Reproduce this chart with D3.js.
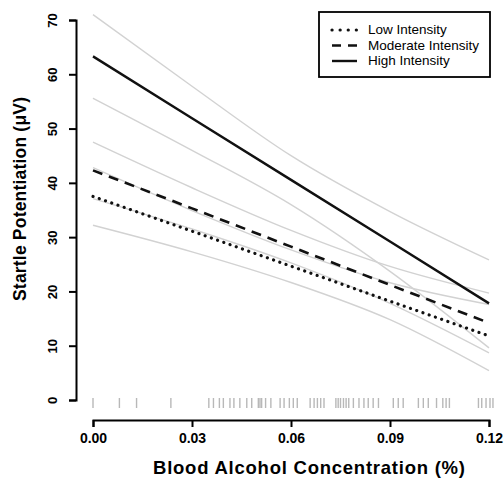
<!DOCTYPE html>
<html><head><meta charset="utf-8">
<script src="https://cdn.jsdelivr.net/npm/d3@7"></script>
<style>body{margin:0;background:#fff}svg{display:block}</style>
</head><body>
<svg id="c" width="504" height="486"></svg>
<script>
const bacGrid = [0, 0.03, 0.06, 0.09, 0.12];
const xTicks = [0, 0.03, 0.06, 0.09, 0.12];
const yTicks = [0, 10, 20, 30, 40, 50, 60, 70];
const seriesNames = ["Low Intensity", "Moderate Intensity", "High Intensity"];
const lowFit = [37.5, 31.1, 24.65, 18.2, 11.8];
const modFit = [42.3, 35.3, 28.25, 21.2, 14.2];
const highFit = [63.3, 51.9, 40.55, 29.2, 17.8];
const lowUpper = [42.8, 34.9, 27.65, 21.6, 17.6];
const lowLower = [32.2, 27.3, 21.65, 14.8, 5.4];
const modUpper = [47.5, 39.1, 31.25, 24.6, 19.7];
const modLower = [37.1, 31.5, 25.25, 17.8, 8.7];
const highUpper = [71.0, 57.8, 45.0, 34.7, 25.8];
const highLower = [55.6, 46.0, 36.0, 23.7, 9.6];
const rugBAC = [0.000,0.008,0.0132,0.0236,0.0351,0.0365,0.0383,0.0395,0.0415,0.0427,0.0445,0.0466,0.0481,
  0.0501,0.0506,0.0511,0.0523,0.0539,0.0567,0.0579,0.0595,0.0607,0.0619,0.0658,0.067,0.068,0.069,0.070,
  0.0736,0.0743,0.075,0.0759,0.0767,0.0775,0.0789,0.0806,0.0821,0.0834,0.0849,0.0865,0.091,0.0925,0.094,
  0.0986,0.1001,0.1016,0.1041,0.106,0.107,0.108,0.1168,0.1178,0.1191,0.1203,0.1212];

const svg = d3.select("#c");
const x = d3.scaleLinear().domain([0, 0.12]).range([93, 489]);
const y = d3.scaleLinear().domain([0, 70]).range([400, 20]);
const font = "Liberation Sans, Arial, Helvetica, sans-serif";

const line = d3.line().x((d, i) => x(bacGrid[i])).y(d => y(d));
const ciLine = d3.line().x((d, i) => x(bacGrid[i])).y(d => y(d)).curve(d3.curveMonotoneX);

// CI lines
[highUpper, highLower, modUpper, modLower, lowUpper, lowLower].forEach(arr => {
  svg.append("path").attr("d", ciLine(arr)).attr("fill", "none")
    .attr("stroke", "#d2d2d2").attr("stroke-width", 1.4);
});

const styles = [
  {data: lowFit, dash: "0.1 6.5", cap: "round", w: 3.2},
  {data: modFit, dash: "10 7", cap: "butt", w: 2.6},
  {data: highFit, dash: null, cap: "butt", w: 2.4}
];
styles.forEach(s => {
  svg.append("path").attr("d", line(s.data)).attr("fill", "none")
    .attr("stroke", "#111").attr("stroke-width", s.w)
    .attr("stroke-dasharray", s.dash).attr("stroke-linecap", s.cap);
});

// rug
svg.append("g").selectAll("line").data(rugBAC).join("line")
  .attr("x1", d => x(d)).attr("x2", d => x(d))
  .attr("y1", 398).attr("y2", 408)
  .attr("stroke", "#b8b8b8").attr("stroke-width", 1.4);

// x axis
const xAxis = svg.append("g").attr("transform", "translate(0,420)")
  .call(d3.axisBottom(x).tickValues(xTicks).tickFormat(d3.format(".2f")).tickSizeOuter(0).tickSize(7));
xAxis.select(".domain").attr("stroke", "#000").attr("stroke-width", 2);
xAxis.selectAll(".tick line").attr("stroke", "#000").attr("stroke-width", 2);
xAxis.selectAll("text").attr("font-family", font).attr("font-size", 14).attr("font-weight", "bold")
  .attr("fill", "#000").attr("dy", "0.95em");

// y axis
const yAxis = svg.append("g").attr("transform", "translate(76,0)")
  .call(d3.axisLeft(y).tickValues(yTicks).tickSizeOuter(0).tickSize(7));
yAxis.select(".domain").attr("stroke", "#000").attr("stroke-width", 2);
yAxis.selectAll(".tick line").attr("stroke", "#000").attr("stroke-width", 2);
yAxis.selectAll("text").attr("font-family", font).attr("font-size", 13).attr("font-weight", "bold")
  .attr("fill", "#000").attr("x", 0).attr("dy", 0)
  .attr("text-anchor", "middle")
  .attr("transform", "translate(-22,0) rotate(-90)").attr("y", 0).attr("dominant-baseline", "middle");

// titles
svg.append("text").attr("x", 309).attr("y", 474).attr("text-anchor", "middle")
  .attr("font-family", font).attr("font-size", 18.5).attr("font-weight", "bold")
  .attr("textLength", 312).attr("lengthAdjust", "spacing")
  .text("Blood Alcohol Concentration (%)");
svg.append("text").attr("transform", "translate(26,199) rotate(-90)").attr("text-anchor", "middle")
  .attr("font-family", font).attr("font-size", 17.5).attr("font-weight", "bold")
  .attr("textLength", 204).attr("lengthAdjust", "spacing")
  .text("Startle Potentiation (\u03BCV)");

// legend
const lg = svg.append("g");
lg.append("rect").attr("x", 319).attr("y", 12).attr("width", 171).attr("height", 65)
  .attr("fill", "#fff").attr("stroke", "#000").attr("stroke-width", 1.8);
styles.forEach((s, i) => {
  const yy = 30 + i * 15.5;
  lg.append("line").attr("x1", 332).attr("x2", 357).attr("y1", yy).attr("y2", yy)
    .attr("stroke", "#111").attr("stroke-width", s.w)
    .attr("stroke-dasharray", i === 0 ? "0.1 8" : (i === 1 ? "9 7" : null))
    .attr("stroke-linecap", s.cap);
  lg.append("text").attr("x", 368).attr("y", yy + 0.5).attr("dominant-baseline", "middle")
    .attr("font-family", font).attr("font-size", 13.5).text(seriesNames[i]);
});
</script>
</body></html>
